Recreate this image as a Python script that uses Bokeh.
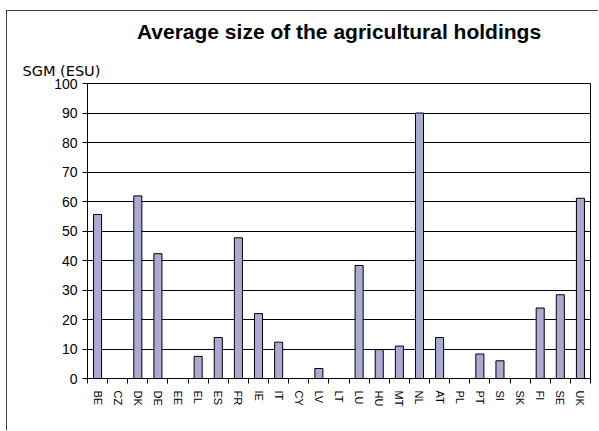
import numpy as np
from bokeh.plotting import figure
from bokeh.models import (FactorRange, Range1d, LinearAxis, FixedTicker, Title, ColumnDataSource)
from bokeh.embed import file_html
from bokeh.resources import INLINE

title_text = "Average size of the agricultural holdings"
y_label = "SGM (ESU)"
categories = ["BE", "CZ", "DK", "DE", "EE", "EL", "ES", "FR", "IE", "IT", "CY", "LV", "LT",
              "LU", "HU", "MT", "NL", "AT", "PL", "PT", "SI", "SK", "FI", "SE", "UK"]
values = [55.6, None, 61.9, 42.3, None, 7.5, 13.9, 47.7, 22.0, 12.3, None, 3.4, None,
          38.3, 9.8, 11.0, 90.0, 13.9, None, 8.3, 6.0, None, 23.9, 28.4, 61.1]
y_ticks = [0, 10, 20, 30, 40, 50, 60, 70, 80, 90, 100]

src = ColumnDataSource(dict(cat=categories,
                            val=np.array([np.nan if v is None else v for v in values], dtype=float)))

p = figure(width=592, height=430,
           x_range=FactorRange(*categories, range_padding=0),
           y_range=Range1d(0, 100),
           x_axis_location=None,
           output_backend="svg", toolbar_location=None,
           min_border_left=81, min_border_right=8, min_border_top=83, min_border_bottom=52)
# outer chart-area frame (top and left edges visible), drawn behind a transparent border area
p.styles = {
    "margin-left": "6px",
    "margin-top": "0px",
    "background-color": "white",
    "background-image": "linear-gradient(#404040, #404040), linear-gradient(#404040, #404040)",
    "background-size": "100% 1px, 1px 100%",
    "background-position": "0 10px, 0 10px",
    "background-repeat": "no-repeat",
}

p.background_fill_color = "white"
p.border_fill_alpha = 0
p.outline_line_color = "black"
p.outline_line_alpha = 1.0
p.outline_line_width = 1

p.vbar(x="cat", top="val", bottom=0, width=0.4, source=src,
       fill_color="#AAAAD2", line_color="black", line_width=1)

# y axis
yax = p.yaxis[0]
yax.ticker = FixedTicker(ticks=y_ticks)
yax.major_tick_out = 5
yax.major_tick_in = 0
yax.minor_tick_out = 0
yax.minor_tick_in = 0
yax.axis_line_color = "black"
yax.major_tick_line_color = "black"
yax.major_label_text_font = "Liberation Sans"
yax.major_label_text_font_size = "14px"
yax.major_label_text_color = "black"
yax.major_label_standoff = 5

p.ygrid.grid_line_color = "black"
p.ygrid.grid_line_alpha = 1.0
p.ygrid.grid_line_width = 1
p.ygrid.ticker = FixedTicker(ticks=y_ticks)
for g in p.xgrid:
    g.visible = False

# x axis: labels at category centres, ticks between categories (Excel style)
n = len(categories)
centres = [i + 0.5 for i in range(n)]
bounds = [float(i) for i in range(n + 1)]
xax = LinearAxis(ticker=FixedTicker(ticks=centres, minor_ticks=bounds),
                 major_label_overrides={c: cat for c, cat in zip(centres, categories)},
                 major_tick_out=0, major_tick_in=0,
                 minor_tick_out=5, minor_tick_in=0,
                 axis_line_color="black", minor_tick_line_color="black",
                 major_label_orientation="vertical",
                 major_label_text_font="Liberation Sans",
                 major_label_text_font_size="11px",
                 major_label_text_color="black",
                 major_label_standoff=7)
p.add_layout(xax, "below")

sgm = Title(text=y_label, align="left", offset=-65,
            text_font="DejaVu Sans", text_font_size="14.5px", text_font_style="normal",
            text_color="black", standoff=10)
p.add_layout(sgm, "above")
main = Title(text=title_text, align="center",
             text_font="Liberation Sans", text_font_size="21px", text_font_style="bold",
             text_color="black", standoff=25)
p.add_layout(main, "above")

open("out.html", "w").write(file_html(p, INLINE))
